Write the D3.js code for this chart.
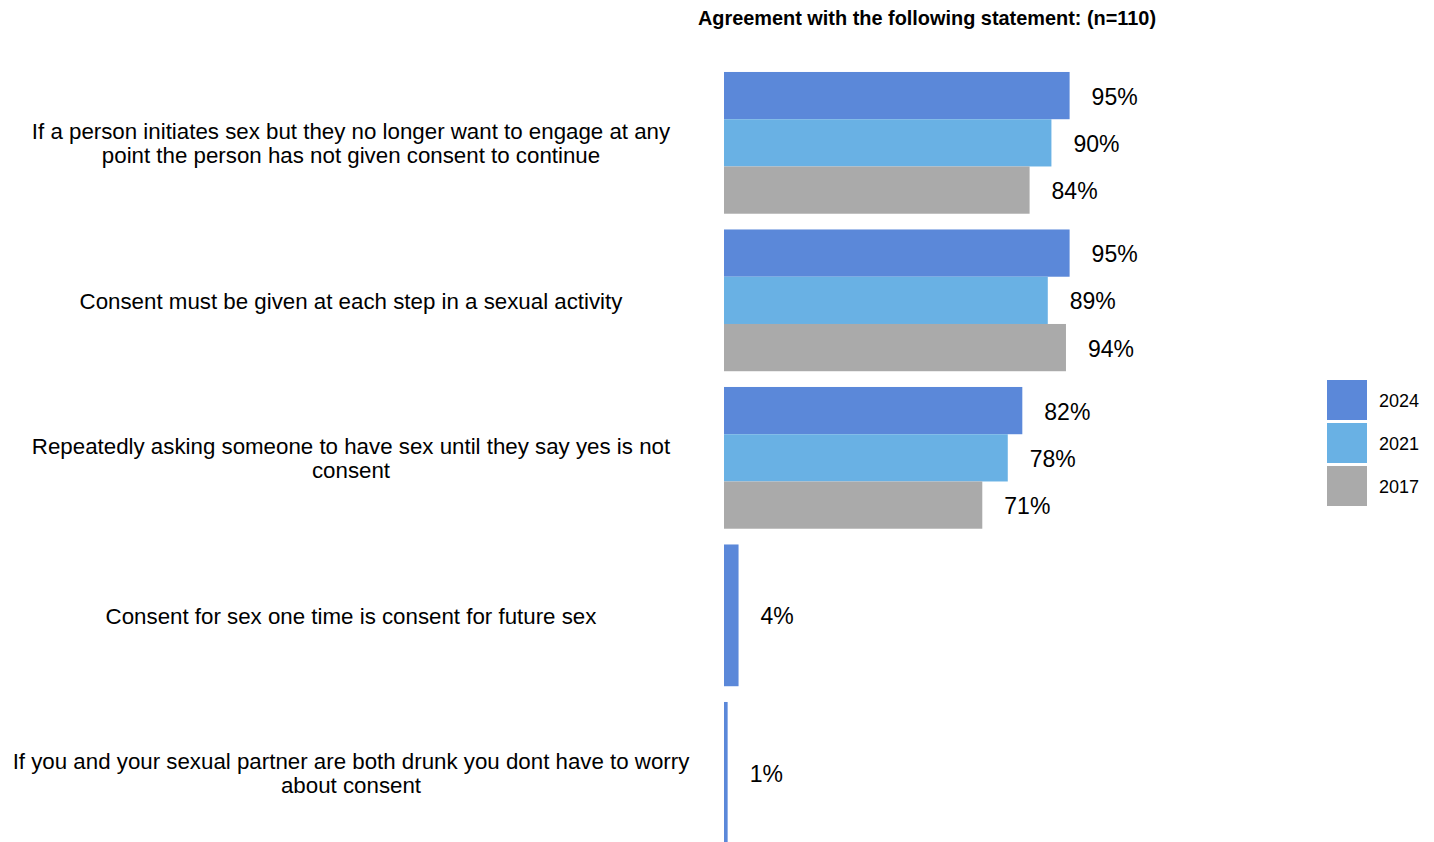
<!DOCTYPE html>
<html>
<head>
<meta charset="utf-8">
<script src="https://cdn.jsdelivr.net/npm/d3@7"></script>
<style>
  html, body { margin: 0; padding: 0; background: #fff; }
  svg { display: block; font-family: "Liberation Sans", Arial, sans-serif; }
</style>
</head>
<body>
<svg id="chart" width="1434" height="842"></svg>
<script>
// Survey statements (each entry holds the wrapped lines of the label)
const categories = [
  ["If a person initiates sex but they no longer want to engage at any", "point the person has not given consent to continue"],
  ["Consent must be given at each step in a sexual activity"],
  ["Repeatedly asking someone to have sex until they say yes is not", "consent"],
  ["Consent for sex one time is consent for future sex"],
  ["If you and your sexual partner are both drunk you dont have to worry", "about consent"]
];
const seriesNames = ["2024", "2021", "2017"];
const values2024 = [95, 95, 82, 4, 1];
const values2021 = [90, 89, 78, null, null];
const values2017 = [84, 94, 71, null, null];
const seriesColors = ["#5b88d9", "#69b1e4", "#aaaaaa"];
const titleText = "Agreement with the following statement: (n=110)";

const seriesValues = [values2024, values2021, values2017];
const svg = d3.select("#chart");

const x = d3.scaleLinear().domain([0, 100]).range([724, 1087.8]);
const y = d3.scaleBand()
  .domain(d3.range(categories.length))
  .range([64.1, 851.6])
  .paddingInner(0.1)
  .paddingOuter(0.05);
const color = d3.scaleOrdinal().domain(seriesNames).range(seriesColors);

// Title
svg.append("text")
  .attr("x", 927)
  .attr("y", 17.5)
  .attr("text-anchor", "middle")
  .attr("dominant-baseline", "central")
  .attr("font-weight", "bold")
  .attr("font-size", 19.9)
  .attr("fill", "#000")
  .text(titleText);

// Build one row per category with the series that have data
const rows = categories.map((lines, i) => {
  const bars = seriesNames
    .map((name, s) => ({ name, value: seriesValues[s][i] }))
    .filter(d => d.value != null);
  return { i, lines, bars };
});

const groups = svg.append("g").selectAll("g.cat")
  .data(rows)
  .join("g")
  .attr("class", "cat")
  .attr("transform", d => `translate(0,${y(d.i)})`);

groups.each(function (row) {
  const g = d3.select(this);
  const sub = d3.scaleBand()
    .domain(row.bars.map(b => b.name))
    .range([0, y.bandwidth()]);

  g.selectAll("rect")
    .data(row.bars)
    .join("rect")
    .attr("x", x(0))
    .attr("y", b => sub(b.name))
    .attr("width", b => x(b.value) - x(0))
    .attr("height", sub.bandwidth())
    .attr("fill", b => color(b.name));

  g.selectAll("text.val")
    .data(row.bars)
    .join("text")
    .attr("class", "val")
    .attr("x", b => x(b.value) + 22)
    .attr("y", b => sub(b.name) + sub.bandwidth() / 2 + 1)
    .attr("dominant-baseline", "central")
    .attr("font-size", 23)
    .attr("fill", "#000")
    .text(b => b.value + "%");

  // Category label, centred in the left column
  const lh = 24;
  const n = row.lines.length;
  const label = g.append("text")
    .attr("x", 351)
    .attr("text-anchor", "middle")
    .attr("font-size", 22.3)
    .attr("fill", "#000");
  row.lines.forEach((line, k) => {
    label.append("tspan")
      .attr("x", 351)
      .attr("y", y.bandwidth() / 2 + (k - (n - 1) / 2) * lh + 1)
      .attr("dominant-baseline", "central")
      .text(line);
  });
});

// Legend
const legend = svg.append("g").attr("transform", "translate(1327,380)");
const li = legend.selectAll("g")
  .data(seriesNames)
  .join("g")
  .attr("transform", (d, i) => `translate(0,${i * 43})`);
li.append("rect")
  .attr("width", 40)
  .attr("height", 40)
  .attr("fill", d => color(d));
li.append("text")
  .attr("x", 52)
  .attr("y", 20.5)
  .attr("dominant-baseline", "central")
  .attr("font-size", 18)
  .attr("fill", "#000")
  .text(d => d);
</script>
</body>
</html>
